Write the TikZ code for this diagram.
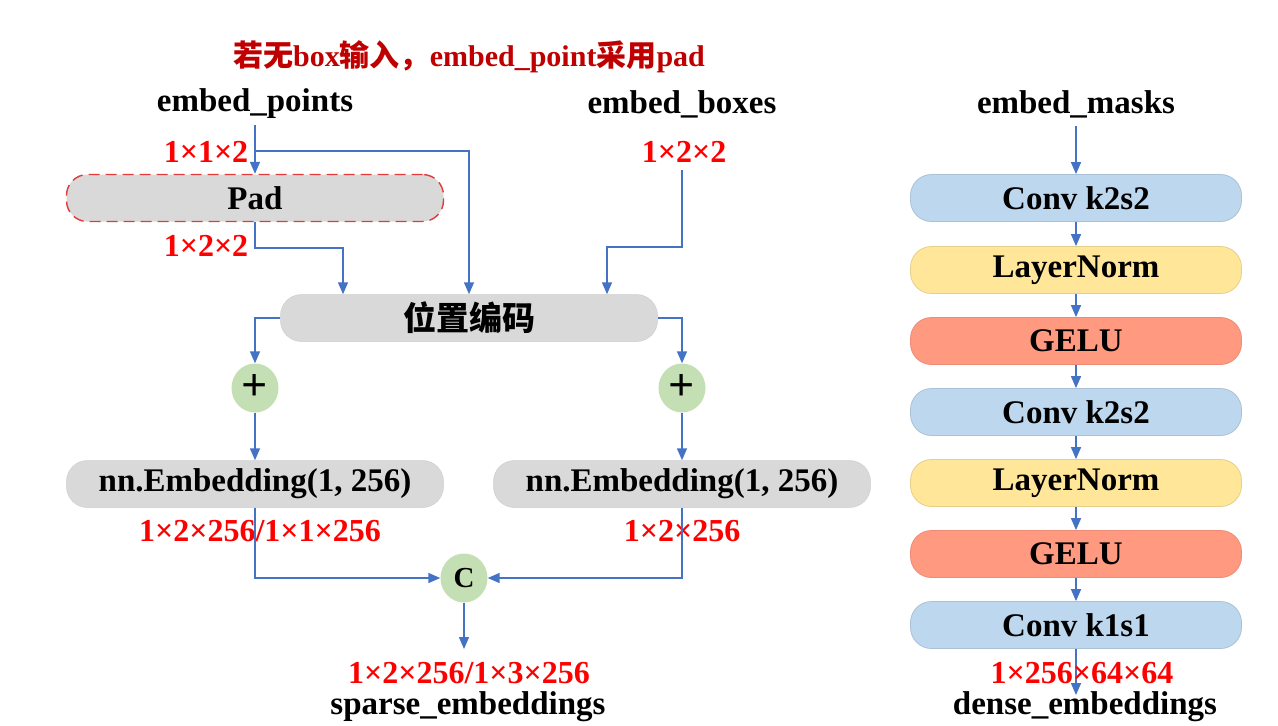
\documentclass[tikz,border=0pt]{standalone}
\usepackage{fontspec}
\setmainfont{Liberation Serif}
\newfontfamily\cjk{Noto Sans CJK SC}
\usetikzlibrary{arrows.meta,shapes.geometric}
\definecolor{arrowblue}{HTML}{4472C4}
\definecolor{boxgray}{HTML}{D9D9D9}
\definecolor{convblue}{HTML}{BDD7EE}
\definecolor{lnyellow}{HTML}{FFE699}
\definecolor{gelured}{HTML}{FF9980}
\definecolor{opgreen}{HTML}{C5DFB4}
\definecolor{titlered}{HTML}{C00000}
\definecolor{dimred}{HTML}{FF0000}
\definecolor{padred}{HTML}{E03C3C}
\newcommand\bigfont{\fontsize{33}{35}\selectfont\bfseries}
\newcommand\dimfont{\fontsize{32}{34}\selectfont\bfseries}
\tikzset{
  conn/.style={draw=arrowblue, line width=1.5pt},
  arr/.style={conn, -{Triangle[length=12pt,width=10pt]}},
  lbl/.style={font=\bigfont, text=black, inner sep=1pt},
  dimlbl/.style={font=\dimfont, text=dimred, inner sep=1pt},
  pill/.style={rounded corners=21pt, minimum height=47pt, inner sep=0pt, font=\bigfont},
  graybox/.style={pill, fill=boxgray, draw=boxgray!95!black, line width=0.5pt, minimum width=377pt},
  rbox/.style={pill, minimum width=331pt, line width=0.8pt},
  convbox/.style={rbox, fill=convblue, draw=convblue!90!black},
  lnbox/.style={rbox, fill=lnyellow, draw=lnyellow!90!black},
  gelubox/.style={rbox, fill=gelured, draw=gelured!92!black},
  opnode/.style={ellipse, fill=opgreen, minimum width=47pt, minimum height=49pt, inner sep=0pt},
}
\begin{document}
\begin{tikzpicture}[x=1pt,y=-1pt]
\useasboundingbox (0,0) rectangle (1278,726);
\fill[white] (0,0) rectangle (1278,726);

% title
\node[font=\fontsize{30}{32}\selectfont\bfseries, text=titlered, inner sep=0pt] (title) at (469,57)
  {{\cjk 若无}box{\cjk 输入，}embed\_point{\cjk 采用}pad};

% input labels
\node[lbl] (ep) at (255,104) {embed\_points};
\node[lbl] (eb) at (682,104) {embed\_boxes};
\node[lbl] (em) at (1076,104) {embed\_masks};

\node[dimlbl] (d112) at (206,152) {1×1×2};
\node[dimlbl] (d122b) at (684,152) {1×2×2};

% pad
\node[pill, fill=boxgray, draw=padred, dashed, dash pattern=on 11pt off 6pt, line width=1.4pt, minimum width=377pt] (pad) at (255,198) {Pad};
\node[dimlbl] (d122a) at (206,246) {1×2×2};

% positional encoding
\node[graybox, font=\fontsize{33}{35}\selectfont\cjk\bfseries] (pe) at (469,318) {位置编码};

% plus nodes
\node[opnode, font=\fontsize{46}{46}\selectfont\bfseries] (p1) at (255,388) {+};
\node[opnode, font=\fontsize{46}{46}\selectfont\bfseries] (p2) at (682,388) {+};

% embeddings
\node[graybox] (e1) at (255,484) {nn.Embedding(1, 256)};
\node[graybox] (e2) at (682,484) {nn.Embedding(1, 256)};
\node[dimlbl] (d1) at (260,531) {1×2×256/1×1×256};
\node[dimlbl] (d2) at (682,531) {1×2×256};

% concat
\node[opnode, font=\fontsize{29}{30}\selectfont\bfseries] (cat) at (464,578) {C};
\node[dimlbl] (ds) at (469,673) {1×2×256/1×3×256};
\node[lbl] (sp) at (468,707) {sparse\_embeddings};

% connectors left part
\coordinate (ept) at (255,125);
\coordinate (br) at (255,151);
\draw[arr] (ept) -- (pad.north);
\draw[arr] (br) -| (pe.north);
\draw[arr] (pad.south) -- ++(0,26) -| ([xshift=-126pt]pe.north);
\coordinate (ebt) at (682,170);
\draw[arr] (ebt) -- (682,247) -| ([xshift=138pt]pe.north);
\draw[arr] (pe.west) -| (p1.north);
\draw[arr] (pe.east) -| (p2.north);
\draw[arr] (p1.south) -- (e1.north);
\draw[arr] (p2.south) -- (e2.north);
\draw[arr] (e1.south) |- (cat.west);
\draw[arr] (e2.south) |- (cat.east);
\coordinate (send) at (464,649);
\draw[arr] (cat.south) -- (send);

% right column
\node[convbox] (r1) at (1076,198) {Conv k2s2};
\node[lnbox]   (r2) at (1076,270) {LayerNorm};
\node[gelubox] (r3) at (1076,341) {GELU};
\node[convbox] (r4) at (1076,412) {Conv k2s2};
\node[lnbox]   (r5) at (1076,483) {LayerNorm};
\node[gelubox] (r6) at (1076,554) {GELU};
\node[convbox] (r7) at (1076,625) {Conv k1s1};
\coordinate (emt) at (1076,126);
\draw[arr] (emt) -- (r1.north);
\foreach \a/\b in {r1/r2,r2/r3,r3/r4,r4/r5,r5/r6,r6/r7}
  \draw[arr] (\a.south) -- (\b.north);
\coordinate (dend) at (1076,695);
\draw[arr] (r7.south) -- (dend);
\node[dimlbl] (dd) at (1082,673) {1×256×64×64};
\node[lbl] (de) at (1085,707) {dense\_embeddings};
\end{tikzpicture}
\end{document}
